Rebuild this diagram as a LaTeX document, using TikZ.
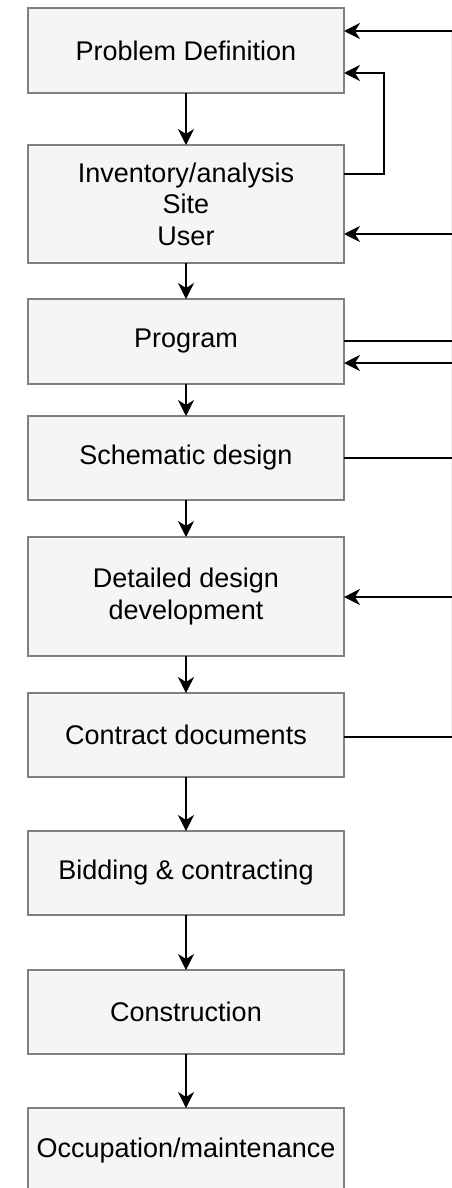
\documentclass[tikz,border=0pt]{standalone}
\usepackage{fontspec}
\setmainfont{Liberation Sans}
\usetikzlibrary{arrows.meta}
\definecolor{boxfill}{HTML}{F5F5F5}
\definecolor{boxline}{HTML}{808080}
\begin{document}
\begin{tikzpicture}[x=1pt,y=-1pt,
  stepbox/.style={draw=boxline,line width=1.5pt,fill=boxfill,minimum width=316pt,
    minimum height=85pt,inner sep=0pt,outer sep=0pt,align=center,
    font=\fontsize{27}{31.5}\selectfont},
  conn/.style={draw=black,line width=1.5pt},
  arr/.style={conn,-{Stealth[length=16pt,width=16pt,inset=5pt]}}]
\useasboundingbox (0,0) rectangle (452,1188);
\fill[white] (0,0) rectangle (452,1188);
\node[stepbox] (b1) at (186,50.5) {Problem Definition};
\node[stepbox,minimum height=118pt] (b2) at (186,204) {Inventory/analysis\\Site\\User};
\node[stepbox] (b3) at (186,341.5) {Program};
\node[stepbox,minimum height=84pt] (b4) at (186,458) {Schematic design};
\node[stepbox,minimum height=119pt] (b5) at (186,596.5) {Detailed design\\development};
\node[stepbox,minimum height=84pt] (b6) at (186,735) {Contract documents};
\node[stepbox,minimum height=84pt] (b7) at (186,873) {Bidding \& contracting};
\node[stepbox,minimum height=84pt] (b8) at (186,1012) {Construction};
\node[stepbox] (b9) at (186,1150.5) {Occupation/maintenance};
% vertical flow
\foreach \a/\b in {b1/b2,b2/b3,b3/b4,b4/b5,b5/b6,b6/b7,b7/b8,b8/b9}
  \draw[arr] (\a.south) -- (\b.north);
% right-edge coordinates
\coordinate (r1) at (452,31);
\coordinate (r2) at (452,234);
\coordinate (r3) at (452,341);
\coordinate (r4) at (452,363);
\coordinate (r5) at (452,458);
\coordinate (r6) at (452,597);
\coordinate (r7) at (452,737);
\coordinate (k1) at (384,174);
\coordinate (k2) at (384,73);
\draw[gray!12,line width=0.8pt] (451.6,31) -- (451.6,737);
\draw[arr] (r1) -- (r1 -| b1.east);
\draw[arr] (k1 -| b2.east) -- (k1) -- (k2) -- (k2 -| b1.east);
\draw[arr] (r2) -- (r2 -| b2.east);
\draw[conn] (r3 -| b3.east) -- (r3);
\draw[arr] (r4) -- (r4 -| b3.east);
\draw[conn] (r5 -| b4.east) -- (r5);
\draw[arr] (r6) -- (r6 -| b5.east);
\draw[conn] (r7 -| b6.east) -- (r7);
\end{tikzpicture}
\end{document}
